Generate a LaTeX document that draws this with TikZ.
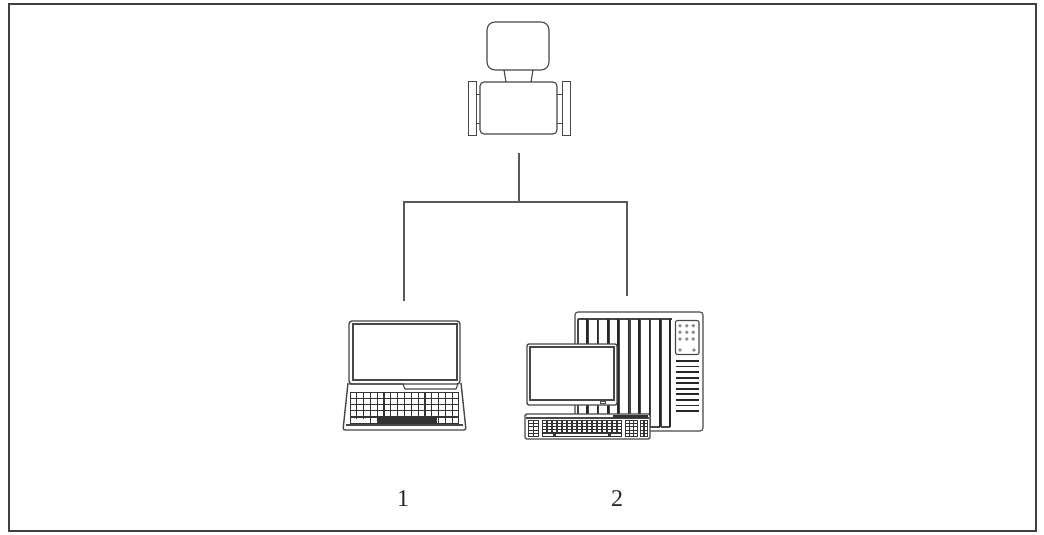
\documentclass[tikz,border=0pt]{standalone}
\usepackage{fontspec}
\setmainfont{Liberation Serif}
% grid of keys: x0 y0 x1 y1 columns rows
\newcommand\keygrid[6]{%
  \fill[black!80] (#1,#2) rectangle (#3,#4);
  \pgfmathsetmacro\kgw{(#3-#1)/#5}%
  \pgfmathsetmacro\kgh{(#4-#2)/#6}%
  \foreach \ki in {1,...,#5}{\foreach \kj in {1,...,#6}{%
    \fill[white] ({#1+(\ki-1)*\kgw+0.6},{#2+(\kj-1)*\kgh+0.6}) rectangle ({#1+\ki*\kgw-0.6},{#2+\kj*\kgh-0.6});}}%
}
\begin{document}
\begin{tikzpicture}[x=1pt,y=-1pt,
  ln/.style={draw=black!72, line width=1.1pt},
  wire/.style={draw=black!65, line width=1.3pt},
  lbl/.style={font=\fontsize{24}{26}\selectfont, text=black!85, inner sep=0pt}]
\useasboundingbox (0,0) rectangle (1044,535);
\draw[black!75, line width=1.6pt] (9,4) rectangle (1036,531);

% flowmeter
\draw[ln, rounded corners=8pt] (487,22) rectangle (549,70);
\draw[ln] (504,70) -- (506,82) (533,70) -- (531,82);
\draw[ln, rounded corners=4pt] (480,82) rectangle (557,134);
\draw[ln, line width=0.9pt] (468,81) rectangle (476,135) (562,81) rectangle (570,135);
\draw[ln, line width=0.9pt] (476,94) -- (480,94) (476,123) -- (480,123)
          (557,94) -- (562,94) (557,123) -- (562,123);

% connection lines
\coordinate (mbot) at (519,153);
\coordinate (split) at (519,202);
\coordinate (lend) at (404,301);
\coordinate (rend) at (627,296);
\draw[wire] (mbot) -- (split);
\draw[wire] (lend) |- (split) -| (rend);

% laptop
\draw[ln, line width=1.4pt, rounded corners=3pt] (349,321) rectangle (460,384);
\draw[ln] (353,324) rectangle (457,380);
\draw[ln, line width=1.4pt, rounded corners=2pt] (348,383) -- (343,430) -- (466,430) -- (461,383);
\draw[ln] (346,425) -- (463,425);
\draw[ln] (349,384) -- (403,384) -- (405,389) -- (456,389) -- (458,384);
\keygrid{350}{392}{459}{417}{16}{4}
\keygrid{350}{417}{459}{424}{16}{1}
\fill[black!80] (377,417.5) rectangle (437,423.5);
\fill[white] (352,418.5) rectangle (364,423);

% control system cabinet
\draw[ln, rounded corners=3pt] (575,312) rectangle (703,431);
\draw[ln] (578,319) -- (672,319);
\foreach \s in {0,...,8}{
  \draw[ln] ({578+10.4*\s},319) -- ({578+10.4*\s},427) -- ({587+10.4*\s},427);
  \draw[black!85, line width=1.5pt] ({587+10.4*\s},319) -- ({587+10.4*\s},427);
}
\draw[ln, rounded corners=2pt] (675.5,320.5) rectangle (699,354.5);
\foreach \cx in {680,686.7,693.3}{\foreach \cy in {325.7,332.3,339}{
  \fill[black!45] (\cx,\cy) circle (1.9);}}
\fill[black!45] (680,350) circle (1.9);
\fill[black!45] (694,350) circle (1.9);
\foreach \v in {0,...,9}{
  \draw[black!85, line width=1.8pt] (675.5,{361+5.56*\v}) -- (699,{361+5.56*\v});
}

% monitor
\filldraw[ln, fill=white, line width=1.4pt, rounded corners=2pt] (527,344) rectangle (617,405);
\draw[ln] (530,347) rectangle (614,400);
\draw[ln, line width=0.8pt] (600,401) rectangle (605,403.5);

% keyboard
\filldraw[ln, fill=white, line width=1.4pt, rounded corners=1.5pt] (525,414) rectangle (650,439);
\draw[ln] (526,418) -- (649,418);
\fill[black!80] (613,414.5) rectangle (648,417.5);
\keygrid{528}{420}{539}{437}{2}{5}
\keygrid{542}{420}{622}{433}{16}{4}
\fill[black!80] (542,433) rectangle (622,437);
\fill[white] (543,433.6) rectangle (553,436.4);
\fill[white] (556,433.6) rectangle (608,436.4);
\fill[white] (611,433.6) rectangle (621,436.4);
\keygrid{625}{420}{638}{437}{3}{5}
\keygrid{640}{420}{648}{437}{2}{5}

% labels
\node[lbl] (lbl1) at (403,499) {1};
\node[lbl] (lbl2) at (617,499) {2};
\end{tikzpicture}
\end{document}
